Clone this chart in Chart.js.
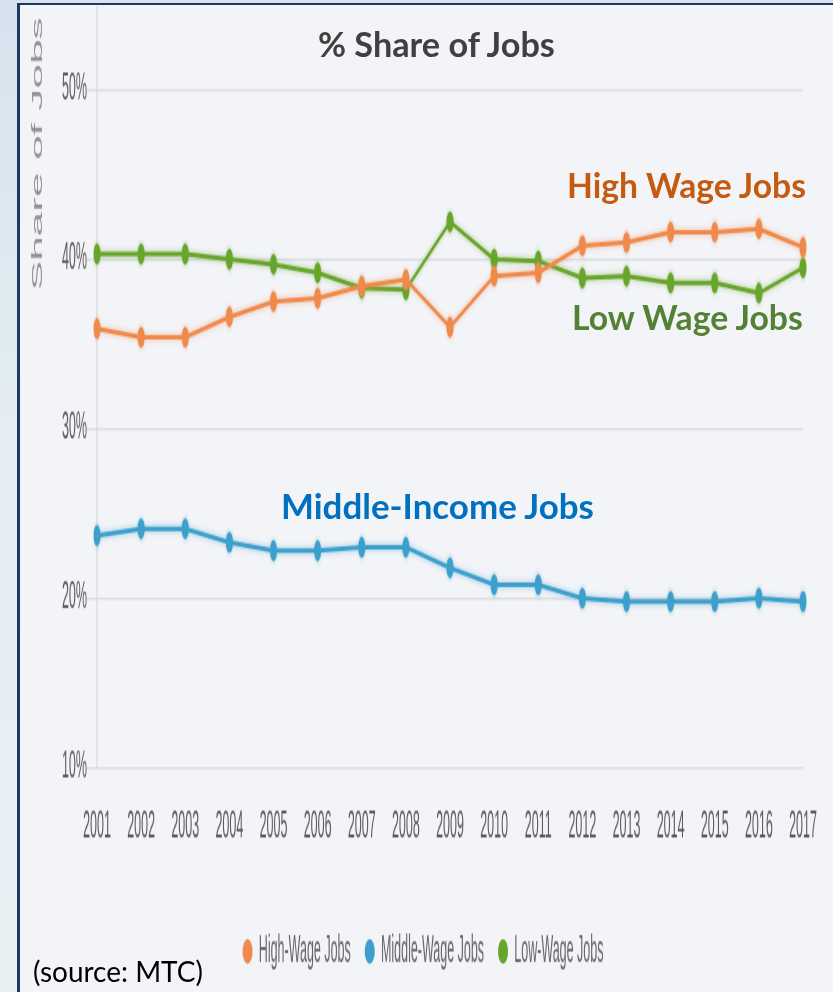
<!DOCTYPE html>
<html>
<head>
<meta charset="utf-8">
<script src="https://cdn.jsdelivr.net/npm/chart.js@4.4.0/dist/chart.umd.min.js"></script>
<style>
  html, body { margin: 0; padding: 0; overflow: hidden; }
  body { width: 833px; height: 992px; position: relative;
         background: linear-gradient(180deg, #d6e3ee 0%, #e4eef3 45%, #e8f1f4 100%); }
  .panel { position: absolute; left: 17px; top: 3px; width: 813px; height: 987px;
           background: #f3f4f8; border-left: 3px solid #1f3864; border-top: 2px solid #1f3864; }
  /* the chart is drawn wide and short, then stretched like the original slide image */
  .wrap { position: absolute; left: 20px; top: 5px; width: 1626px; height: 658px;
          transform-origin: 0 0; transform: scale(0.5, 1.5); }
  .note { position: absolute; font-family: Lato, "Open Sans", sans-serif; font-weight: bold;
          white-space: nowrap; line-height: 1; }
</style>
</head>
<body>
<div class="panel"></div>
<div class="wrap"><canvas id="jobsChart" width="1626" height="658"></canvas></div>

<div class="note" id="t0" style="color:#404040">% Share of Jobs</div>
<div class="note" id="t1" style="color:#c55a11">High Wage Jobs</div>
<div class="note" id="t2" style="color:#548235">Low Wage Jobs</div>
<div class="note" id="t3" style="color:#0070c0">Middle-Income Jobs</div>
<div class="note" id="t4" style="color:#000;font-weight:normal">(source: MTC)</div>

<script>
const years = ['2001','2002','2003','2004','2005','2006','2007','2008','2009',
               '2010','2011','2012','2013','2014','2015','2016','2017'];
const highWage   = [35.9, 35.4, 35.4, 36.6, 37.5, 37.7, 38.4, 38.8, 36.0, 39.0, 39.2, 40.8, 41.0, 41.6, 41.6, 41.8, 40.7];
const middleWage = [23.7, 24.1, 24.1, 23.3, 22.8, 22.8, 23.0, 23.0, 21.8, 20.8, 20.8, 20.0, 19.8, 19.8, 19.8, 20.0, 19.8];
const lowWage    = [40.3, 40.3, 40.3, 40.0, 39.7, 39.2, 38.3, 38.2, 42.2, 40.0, 39.9, 38.9, 39.0, 38.6, 38.6, 38.0, 39.5];
const yTicks = [10, 20, 30, 40, 50];

const orange = '#ef8a4d';
const blue = '#3d9fcb';
const green = '#68a52c';
const tickFont = { family: 'Liberation Sans', size: 25 };

function series(label, values, color){
	return {
		label: label,
		data: values,
		borderColor: color,
		backgroundColor: color,
		borderWidth: 3,
		pointRadius: 7,
		pointHoverRadius: 7,
		pointBorderWidth: 0,
		pointBackgroundColor: color,
		tension: 0
	};
}

// soft glow round each line, like the original export
const glow = {
	id: 'glow',
	beforeDatasetDraw(chart, args){
		const ctx = chart.ctx;
		ctx.save();
		ctx.shadowColor = args.meta.dataset.options.borderColor + '88';
		ctx.shadowBlur = 4;
	},
	afterDatasetDraw(chart){
		chart.ctx.restore();
	}
};

new Chart(document.getElementById('jobsChart'), {
	type: 'line',
	data: {
		labels: years,
		datasets: [
			series('High-Wage Jobs', highWage, orange),
			series('Middle-Wage Jobs', middleWage, blue),
			series('Low-Wage Jobs', lowWage, green)
		]
	},
	plugins: [glow],
	options: {
		responsive: false,
		animation: false,
		layout: { autoPadding: false, padding: { left: 0, right: 14, top: 0, bottom: 4.5 } },
		plugins: {
			tooltip: { enabled: false },
			legend: {
				position: 'bottom',
				labels: {
					usePointStyle: true,
					pointStyle: 'circle',
					pointStyleWidth: 20,
					boxHeight: 11.5,
					padding: 28,
					color: '#666',
					font: tickFont
				}
			}
		},
		scales: {
			x: {
				grid: { display: false, drawTicks: false, tickLength: 0 },
				border: { display: false },
				ticks: { padding: 25, color: '#5c5c5c', font: tickFont, maxRotation: 0, autoSkip: false },
				afterFit: s => { s.height = 82; s.paddingLeft = 0; s.paddingRight = 60; }
			},
			y: {
				min: 10,
				max: 55,
				afterBuildTicks: s => { s.ticks = yTicks.map(v => ({ value: v })); },
				afterFit: s => { s.width = 154; s.paddingTop = 0; s.paddingBottom = 0; },
				grid: { color: '#dcdde2', lineWidth: 1.5, tickLength: 20 },
				border: { display: true, color: '#d3d4d8', width: 2 },
				ticks: { padding: 0, color: '#5c5c5c', font: tickFont, callback: v => v + '%' },
				title: {
					display: true,
					text: 'Share of Jobs ',
					align: 'end',
					color: '#929292',
					font: { family: 'Liberation Sans', size: 29.5 },
					padding: { top: 18, bottom: 31 }
				}
			}
		}
	}
});

// slide text boxes laid over the chart: [id, left, capTop, width]
const notes = [
	['t0', 318, 33, 237],
	['t1', 567, 175, 239],
	['t2', 572, 307, 231],
	['t3', 281, 495, 313],
	['t4', 33, 962, 170]
];
notes.forEach(([id, left, capTop, width]) => {
	const el = document.getElementById(id);
	el.style.fontSize = '30px';
	const w = el.getBoundingClientRect().width;
	const size = 30 * width / w;
	el.style.fontSize = size + 'px';
	el.style.left = left + 'px';
	el.style.top = (capTop - 0.17 * size) + 'px';
});
</script>
</body>
</html>
